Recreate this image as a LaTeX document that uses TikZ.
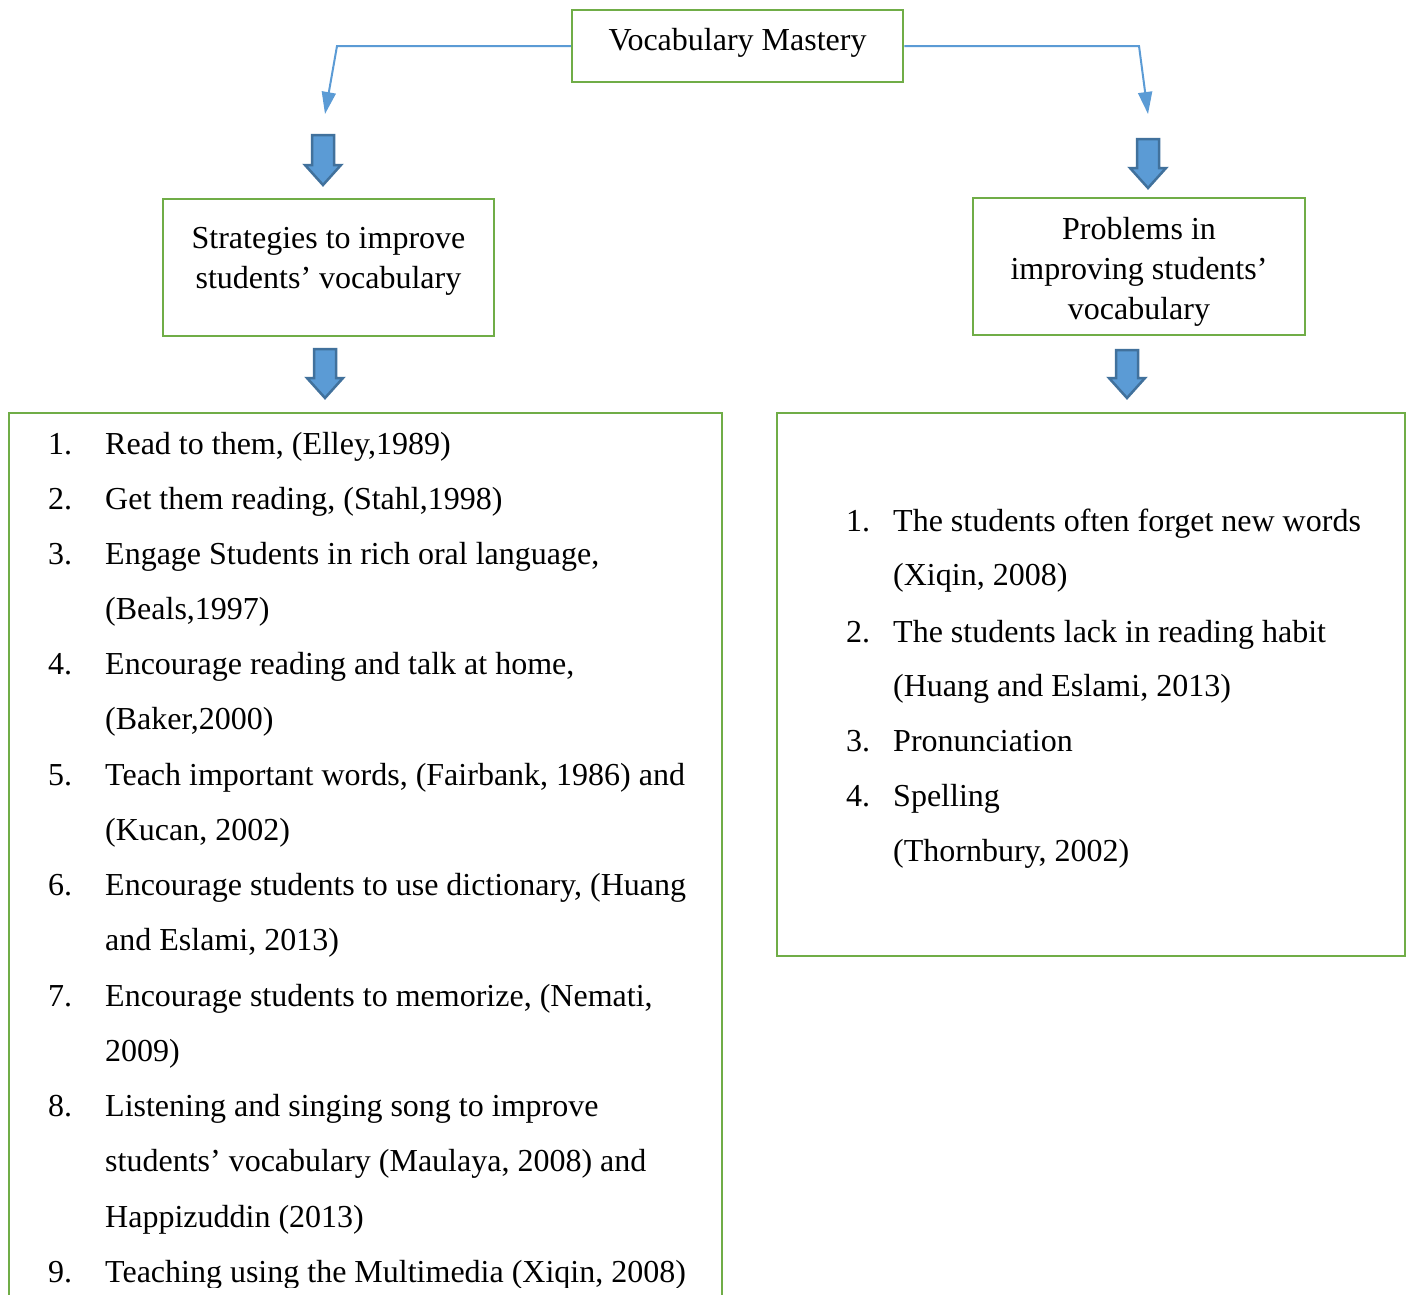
\documentclass[tikz,border=0pt]{standalone}
\usepackage{fontspec}
\setmainfont{Liberation Serif}
\usetikzlibrary{arrows.meta}
\definecolor{boxgreen}{HTML}{70AD47}
\definecolor{lineblue}{HTML}{5B9BD5}
\definecolor{arrowedge}{HTML}{41719C}
\tikzset{
  box/.style={draw=boxgreen, line width=2.5pt, rectangle, inner sep=0pt},
  txt/.style={font=\fontsize{32}{40}\selectfont, align=center, inner sep=0pt},
  item/.style={font=\fontsize{32}{40}\selectfont, anchor=base west, inner sep=0pt},
  conn/.style={draw=lineblue, line width=2pt, -{Triangle[width=14pt,length=22pt]}},
  blockarrow/.style={fill=lineblue, draw=arrowedge, line width=2.5pt, line join=miter}
}
\newcommand{\blockdown}[3]{% x, ytop, ybottom
  \draw[blockarrow] (#1-11,#2) -- (#1+11,#2) -- (#1+11,#3-20) -- (#1+18,#3-20) -- (#1,#3) -- (#1-18,#3-20) -- (#1-11,#3-20) -- cycle;}
\begin{document}
\begin{tikzpicture}[x=1pt,y=-1pt]
\useasboundingbox (0,0) rectangle (1408,1294);
\fill[white] (0,0) rectangle (1408,1294);

% top box
\node[box, minimum width=331pt, minimum height=72pt] (top) at (737.5,46) {};
\node[txt] (toptxt) at (737.5,43) {Vocabulary Mastery};

% thin connectors
\coordinate (lbend) at (337,46);
\coordinate (ltip) at (325,114);
\coordinate (rbend) at (1139,46);
\coordinate (rtip) at (1148,114);
\draw[conn] (top.west) -- (lbend) -- (ltip);
\draw[conn] (top.east) -- (rbend) -- (rtip);

% block arrows
\blockdown{323}{135}{185}
\blockdown{1148}{139}{188}
\blockdown{325}{349}{398}
\blockdown{1127}{350}{398}

% second level boxes
\node[box, minimum width=331pt, minimum height=137pt] (strat) at (328.5,267.5) {};
\node[txt] (strattxt) at (328.5,261) {Strategies to improve\\students’ vocabulary};
\node[box, minimum width=332pt, minimum height=137pt] (prob) at (1139,266.5) {};
\node[txt] (probtxt) at (1139,272) {Problems in\\improving students’\\vocabulary};

% left list box (open at the bottom)
\draw[draw=boxgreen, line width=2.5pt] (9,1300) -- (9,413) -- (722,413) -- (722,1300);
\coordinate (llist) at (9,413);

\begin{scope}
\clip (10,414) rectangle (721,1287);
\foreach \n/\y/\t in {
 1./443/{Read to them, (Elley,1989)},
 2./498/{Get them reading, (Stahl,1998)},
 3./553/{Engage Students in rich oral language,},
 /608/{(Beals,1997)},
 4./663/{Encourage reading and talk at home,},
 /718/{(Baker,2000)},
 5./774/{Teach important words, (Fairbank, 1986) and},
 /829/{(Kucan, 2002)},
 6./884/{Encourage students to use dictionary, (Huang},
 /939/{and Eslami, 2013)},
 7./995/{Encourage students to memorize, (Nemati,},
 /1050/{2009)},
 8./1105/{Listening and singing song to improve},
 /1160/{students’ vocabulary (Maulaya, 2008) and},
 /1216/{Happizuddin (2013)},
 9./1271/{Teaching using the Multimedia (Xiqin, 2008)}
}{
 \node[item] (ln\y) at (48,\y+11.5) {\n};
 \node[item] (lt\y) at (105,\y+11.5) {\t};
}
\end{scope}

% right list box
\node[box, minimum width=628pt, minimum height=543pt] (rlist) at (1091,684.5) {};
\foreach \n/\y/\t in {
 1./520/{The students often forget new words},
 /574/{(Xiqin, 2008)},
 2./631/{The students lack in reading habit},
 /685/{(Huang and Eslami, 2013)},
 3./740/{Pronunciation},
 4./795/{Spelling},
 /850/{(Thornbury, 2002)}
}{
 \node[item] (rn\y) at (846,\y+11.5) {\n};
 \node[item] (rt\y) at (893,\y+11.5) {\t};
}
\end{tikzpicture}
\end{document}
